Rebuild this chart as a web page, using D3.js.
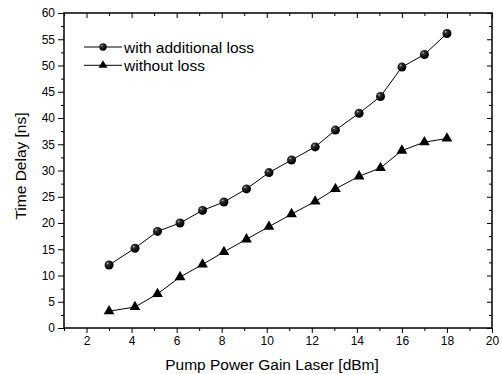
<!DOCTYPE html>
<html lang="en">
<head>
  <meta charset="UTF-8">
  <title>Time Delay vs Pump Power</title>
  <script src="https://d3js.org/d3.v7.min.js"></script>
</head>
<body style="margin: 0; padding: 0; background: white;">
  <svg id="chart" width="502" height="374"></svg>
  <script>
    // Data
    const pumpPower = [3, 4.15, 5.15, 6.15, 7.15, 8.1, 9.1, 10.1, 11.1, 12.15, 13.05, 14.1, 15.05, 16, 17, 18];
    const withLoss = [12.0, 15.2, 18.4, 20.0, 22.4, 24.0, 26.5, 29.6, 32.0, 34.5, 37.7, 40.9, 44.1, 49.7, 52.1, 56.1];
    const withoutLoss = [3.2, 4.0, 6.5, 9.7, 12.1, 14.5, 16.9, 19.3, 21.7, 24.1, 26.5, 28.9, 30.5, 33.8, 35.4, 36.1];
    const xTicks = [2, 4, 6, 8, 10, 12, 14, 16, 18, 20];
    const yTicks = [0, 5, 10, 15, 20, 25, 30, 35, 40, 45, 50, 55, 60];

    const width = 502, height = 374;
    const margin = { top: 13, right: 10, bottom: 46, left: 64 };
    const font = "'Liberation Sans', Arial, sans-serif";

    const svg = d3.select("#chart");

    // gradient for the shaded ball markers
    const defs = svg.append("defs");
    const grad = defs.append("radialGradient")
      .attr("id", "ball")
      .attr("cx", "35%").attr("cy", "32%").attr("r", "60%");
    grad.append("stop").attr("offset", "0%").attr("stop-color", "#c8c8c8");
    grad.append("stop").attr("offset", "25%").attr("stop-color", "#333");
    grad.append("stop").attr("offset", "100%").attr("stop-color", "#000");

    const x = d3.scaleLinear().domain([1, 20]).range([margin.left, width - margin.right]);
    const y = d3.scaleLinear().domain([0, 60]).range([height - margin.bottom, margin.top]);

    const x0 = x.range()[0], x1 = x.range()[1];
    const y0 = y.range()[0], y1 = y.range()[1];

    const minorX = d3.range(1, 21, 1).filter(v => v % 2 !== 0);
    const minorY = d3.range(2.5, 60, 5);

    // bottom axis: outward ticks
    svg.append("g").attr("transform", `translate(0,${y0})`)
      .call(d3.axisBottom(x).tickValues(xTicks).tickSize(5).tickPadding(3));
    svg.append("g").attr("transform", `translate(0,${y0})`)
      .call(d3.axisBottom(x).tickValues(minorX).tickSize(3).tickFormat(""));

    // left axis: outward ticks
    svg.append("g").attr("transform", `translate(${x0},0)`)
      .call(d3.axisLeft(y).tickValues(yTicks).tickSize(6).tickPadding(3));
    svg.append("g").attr("transform", `translate(${x0},0)`)
      .call(d3.axisLeft(y).tickValues(minorY).tickSize(3).tickFormat(""));

    // top and right axes: ticks pointing inward, no labels
    svg.append("g").attr("transform", `translate(0,${y1})`)
      .call(d3.axisBottom(x).tickValues(xTicks).tickSize(5).tickFormat(""));
    svg.append("g").attr("transform", `translate(0,${y1})`)
      .call(d3.axisBottom(x).tickValues(minorX).tickSize(3).tickFormat(""));
    svg.append("g").attr("transform", `translate(${x1},0)`)
      .call(d3.axisLeft(y).tickValues(yTicks).tickSize(5).tickFormat(""));
    svg.append("g").attr("transform", `translate(${x1},0)`)
      .call(d3.axisLeft(y).tickValues(minorY).tickSize(3).tickFormat(""));

    svg.selectAll(".domain").remove();
    svg.selectAll(".tick line").attr("stroke", "#000").attr("stroke-width", 1);
    svg.selectAll(".tick text").attr("fill", "#000").style("font-family", font).style("font-size", "12px");

    // frame
    svg.append("rect")
      .attr("x", x0).attr("y", y1)
      .attr("width", x1 - x0).attr("height", y0 - y1)
      .attr("fill", "none").attr("stroke", "#000").attr("stroke-width", 1.5);

    // axis titles
    svg.append("text")
      .attr("x", 272).attr("y", 369.5)
      .attr("text-anchor", "middle")
      .style("font-family", font).style("font-size", "15.5px")
      .text("Pump Power Gain Laser [dBm]");
    svg.append("text")
      .attr("transform", `translate(26,166) rotate(-90)`)
      .attr("text-anchor", "middle")
      .style("font-family", font).style("font-size", "15.5px")
      .text("Time Delay [ns]");

    const line = d3.line().x(d => x(d[0])).y(d => y(d[1]));
    const s1 = pumpPower.map((p, i) => [p, withLoss[i]]);
    const s2 = pumpPower.map((p, i) => [p, withoutLoss[i]]);

    svg.append("path").datum(s1).attr("d", line)
      .attr("fill", "none").attr("stroke", "#000").attr("stroke-width", 1);
    svg.append("path").datum(s2).attr("d", line)
      .attr("fill", "none").attr("stroke", "#000").attr("stroke-width", 1);

    const tri = d3.symbol().type(d3.symbolTriangle).size(50);

    svg.selectAll(".ball").data(s1).enter().append("circle")
      .attr("cx", d => x(d[0])).attr("cy", d => y(d[1])).attr("r", 4.5)
      .attr("fill", "url(#ball)");

    svg.selectAll(".tri").data(s2).enter().append("path")
      .attr("d", tri)
      .attr("transform", d => `translate(${x(d[0])},${y(d[1])})`)
      .attr("fill", "#000");

    // legend
    const legend = svg.append("g");
    const legendItems = [
      { label: "with additional loss", type: "ball", yy: 47 },
      { label: "without loss", type: "tri", yy: 65.3 }
    ];
    legendItems.forEach(item => {
      legend.append("line")
        .attr("x1", 84).attr("x2", 122).attr("y1", item.yy).attr("y2", item.yy)
        .attr("stroke", "#000").attr("stroke-width", 1);
      if (item.type === "ball") {
        legend.append("circle").attr("cx", 103).attr("cy", item.yy).attr("r", 3.7)
          .attr("fill", "url(#ball)");
      } else {
        legend.append("path").attr("d", d3.symbol().type(d3.symbolTriangle).size(34))
          .attr("transform", `translate(103,${item.yy})`).attr("fill", "#000");
      }
      legend.append("text")
        .attr("x", 124).attr("y", item.yy + 5.5)
        .style("font-family", font).style("font-size", "15.5px")
        .text(item.label);
    });
  </script>
</body>
</html>
